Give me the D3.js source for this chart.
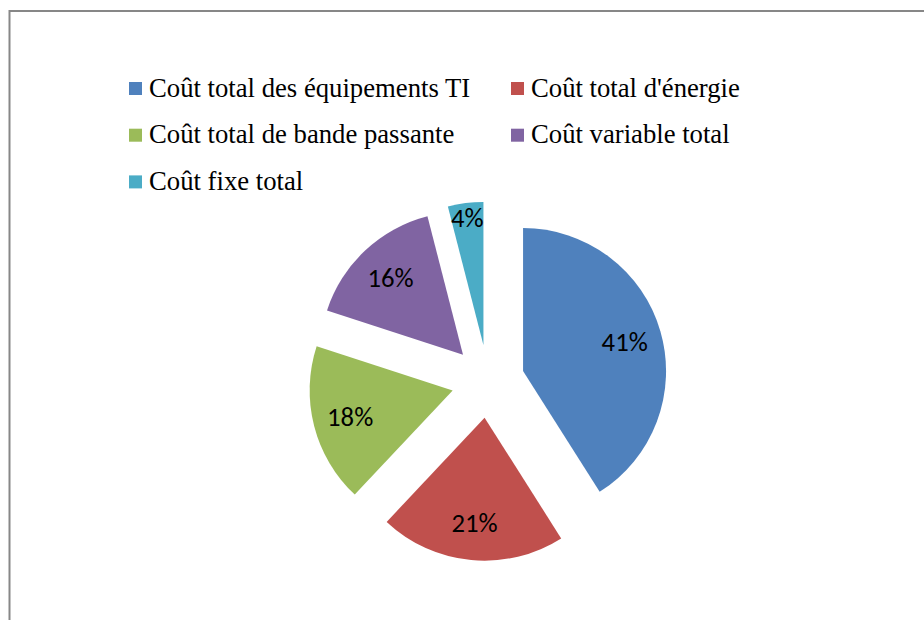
<!DOCTYPE html>
<html lang="fr">

<head>
    <meta charset="utf-8" />
    <title>Répartition des coûts</title>
    <script src="https://d3js.org/d3.v7.min.js"></script>
    <style>
        body {
            margin: 0;
            background: #fff;
        }

        .legend text {
            font-family: "Liberation Serif", "Times New Roman", serif;
            font-size: 26.7px;
            fill: #000;
        }

        .label {
            font-family: Carlito, Calibri, "Lato", sans-serif;
            font-size: 26.7px;
            fill: #000;
        }
    </style>
</head>

<body>
    <script>
        // data
        const categories = [
            "Coût total des équipements TI",
            "Coût total d'énergie",
            "Coût total de bande passante",
            "Coût variable total",
            "Coût fixe total"
        ];
        const values = [41, 21, 18, 16, 4];
        const colors = ["#4F81BD", "#C0504D", "#9BBB59", "#8064A2", "#4BACC6"];

        const width = 924;
        const height = 620;

        const svg = d3
            .select("body")
            .append("svg")
            .attr("width", width)
            .attr("height", height);

        // chart frame (runs off the right and bottom edges)
        svg.append("rect")
            .attr("x", 9.5)
            .attr("y", 11)
            .attr("width", 1000)
            .attr("height", 1000)
            .attr("fill", "none")
            .attr("stroke", "#878787")
            .attr("stroke-width", 2);

        // pie setup
        const cx = 488;
        const cy = 381.3;
        const radius = 143;
        const explode = 36.5;

        const color = d3.scaleOrdinal().domain(categories).range(colors);

        const pie = d3.pie().sort(null).value((d) => d.value);
        const arcs = pie(categories.map((c, i) => ({ name: c, value: values[i] })));

        const arc = d3.arc().innerRadius(0).outerRadius(radius);

        const offset = (d) => {
            const mid = (d.startAngle + d.endAngle) / 2;
            return [Math.sin(mid) * explode, -Math.cos(mid) * explode];
        };

        const g = svg.append("g").attr("transform", `translate(${cx},${cy})`);

        const slice = g
            .selectAll("g.slice")
            .data(arcs)
            .join("g")
            .attr("class", "slice")
            .attr("transform", (d) => `translate(${offset(d)})`);

        slice.append("path")
            .attr("d", arc)
            .attr("fill", (d) => color(d.data.name));

        // labels sit further out in thin slices
        slice.append("text")
            .attr("class", "label")
            .attr("text-anchor", "middle")
            .attr("dy", "0.35em")
            .attr("transform", (d) => {
                const r = d.endAngle - d.startAngle < 0.4 ? radius * 0.9 : radius * 0.74;
                const labelArc = d3.arc().innerRadius(r).outerRadius(r);
                return `translate(${labelArc.centroid(d)})`;
            })
            .text((d) => `${d.data.value}%`);

        // legend, two columns
        const legend = svg.append("g").attr("class", "legend");
        const colX = d3.scaleOrdinal().domain([0, 1]).range([129, 511]);
        const rowY = d3.scaleLinear().domain([0, 1]).range([82, 128.7]);

        const item = legend
            .selectAll("g")
            .data(categories)
            .join("g")
            .attr("transform", (d, i) => `translate(${colX(i % 2)},${rowY(Math.floor(i / 2))})`);

        item.append("rect")
            .attr("width", 13)
            .attr("height", 13)
            .attr("fill", (d) => color(d));

        item.append("text")
            .attr("x", 20)
            .attr("y", 14.5)
            .text((d) => d);
    </script>
</body>

</html>
